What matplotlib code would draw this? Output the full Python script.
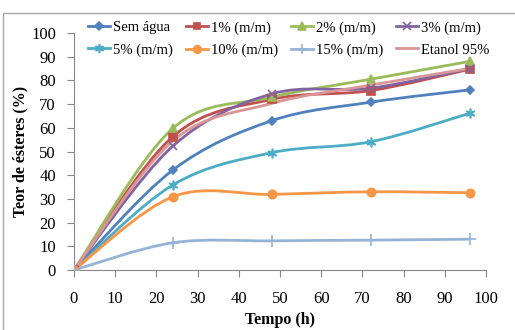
import numpy as np
import matplotlib
matplotlib.use('Agg')
import matplotlib.pyplot as plt
from matplotlib.path import Path
from matplotlib.patches import PathPatch, Rectangle

plt.rcParams['font.family'] = ['Liberation Serif', 'DejaVu Serif']

tempo = [0, 24, 48, 72, 96]
sem_agua = [0, 42.2, 63.0, 70.8, 76.0]
p1 = [0, 56.3, 72.0, 75.7, 84.7]
p2 = [0, 59.8, 72.9, 80.5, 88.0]
p3 = [0, 52.3, 74.3, 76.7, 85.0]
p5 = [0, 35.9, 49.5, 54.1, 66.1]
p10 = [0, 30.9, 31.9, 33.0, 32.6]
p15 = [0, 11.5, 12.3, 12.6, 13.0]
etanol = [0, 54.5, 70.3, 78.0, 85.0]

series = [
    ('Sem água', sem_agua, '#4F81BD', 'D', 4.5),
    ('1% (m/m)', p1, '#C0504D', 's', 5.5),
    ('2% (m/m)', p2, '#9BBB59', '^', 6),
    ('3% (m/m)', p3, '#8064A2', 'x', 6),
    ('5% (m/m)', p5, '#4BACC6', (6, 2, 0), 7),
    ('10% (m/m)', p10, '#F79646', 'o', 6),
    ('15% (m/m)', p15, '#95B3D7', '+', 8),
    ('Etanol 95%', etanol, '#D99694', None, 0),
]


def smooth_path(x, y):
    # Excel-like smoothed line: cubic bezier through the points
    pts = np.column_stack([x, y]).astype(float)
    verts = [pts[0]]
    codes = [Path.MOVETO]
    n = len(pts)
    for i in range(n - 1):
        p0 = pts[i - 1] if i > 0 else pts[i]
        p1_ = pts[i]
        p2_ = pts[i + 1]
        p3_ = pts[i + 2] if i + 2 < n else pts[i + 1]
        c1 = p1_ + (p2_ - p0) / 6
        c2 = p2_ - (p3_ - p1_) / 6
        verts += [c1, c2, p2_]
        codes += [Path.CURVE4] * 3
    return Path(verts, codes)


fig = plt.figure(figsize=(5.15, 3.3), dpi=100)
fig.patches.append(Rectangle((0.006, -0.05), 1.2, 1 - 13/330 + 0.05, transform=fig.transFigure,
                             fill=False, edgecolor='#A6A6A6', lw=1.0))
ax = fig.add_axes([74/515, 60/330, 412/515, 237/330])

handles = []
for name, vals, col, mk, ms in series:
    ax.add_patch(PathPatch(smooth_path(tempo, vals), facecolor='none', edgecolor=col,
                           lw=2, zorder=2))
    if mk is not None:
        ax.plot(tempo, vals, ls='none', marker=mk, color=col, ms=ms, mew=1.2, zorder=3)
    h, = ax.plot([], [], color=col, lw=2, marker=mk, ms=ms - 0.5, mew=1.2)
    handles.append(h)

ax.set_xlim(0, 100)
ax.set_ylim(0, 100)
ax.set_xticks(range(0, 101, 10))
ax.set_yticks(range(0, 101, 10))
for s in ['top', 'right']:
    ax.spines[s].set_visible(False)
for s in ['left', 'bottom']:
    ax.spines[s].set_color('#868686')
ax.tick_params(axis='both', colors='#868686', labelcolor='black', labelsize=12,
               length=5, direction='out')
ax.tick_params(axis='x', pad=10)
ax.tick_params(axis='y', pad=8)
ax.set_xlabel('Tempo (h)', fontsize=11.5, fontweight='bold', labelpad=4)
ax.set_ylabel('Teor de ésteres (%)', fontsize=11.5, fontweight='bold', labelpad=2)

# legend filled row by row, as in the original
order = [0, 4, 1, 5, 2, 6, 3, 7]
ax.legend([handles[i] for i in order], [series[i][0] for i in order], ncol=4,
          loc='upper left', bbox_to_anchor=(0.035, 1.05), frameon=False, fontsize=10.5,
          handlelength=1.5, handletextpad=0.2, columnspacing=0.9,
          labelspacing=0.6, borderaxespad=0, borderpad=0)

fig.savefig('out.png', dpi=100)
